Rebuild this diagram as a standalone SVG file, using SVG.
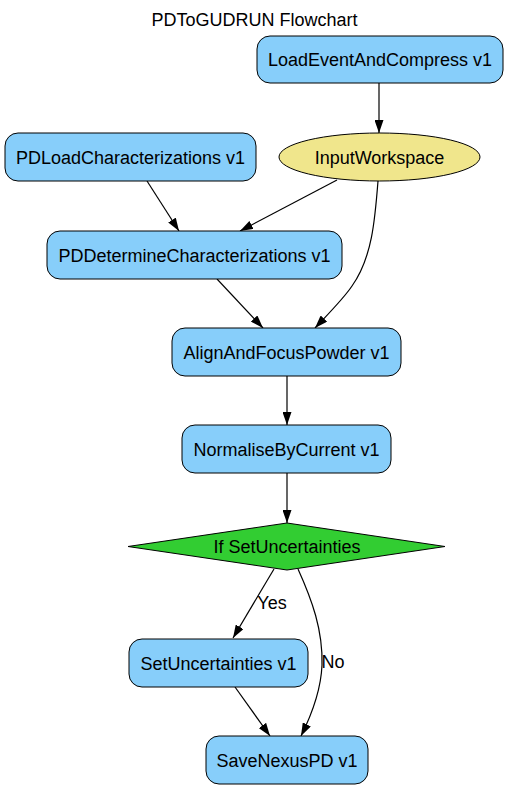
<svg xmlns="http://www.w3.org/2000/svg" width="509" height="789" viewBox="0 0 509 789">
<style>
text{font-family:"Liberation Sans",Arial,Helvetica,sans-serif;font-size:18px;fill:#000;text-anchor:middle}
.n{fill:#87CEFA;stroke:#000;stroke-width:1}
.e{fill:none;stroke:#000;stroke-width:1.2;marker-end:url(#ah)}
</style>
<defs>
<marker id="ah" markerWidth="13" markerHeight="9" refX="13" refY="4.5" orient="auto" markerUnits="userSpaceOnUse">
<path d="M0,0 L13,4.5 L0,9 z" fill="#000"/>
</marker>
</defs>
<rect width="509" height="789" fill="#fff"/>
<text x="254.5" y="26">PDToGUDRUN Flowchart</text>
<g id="connectors">
<path class="e" d="M379,83 L379,133"/>
<path class="e" d="M147,181 L179,231"/>
<path class="e" d="M337,180 L240,231"/>
<path class="e" d="M378,181 C375,220 372,258 352,286 C344,298 332,310 315,328"/>
<path class="e" d="M217,279 L263,328"/>
<path class="e" d="M287,376 L287,425"/>
<path class="e" d="M287,473 L287,523"/>
<path class="e" d="M274,569 L233,638"/>
<path class="e" d="M298,569 C312,600 323,630 322,665 C321,690 312,714 301,736"/>
<path class="e" d="M235,687 L270,736"/>
<text x="272" y="609">Yes</text>
<text x="333" y="668">No</text>
</g>
<g id="LoadEventAndCompress">
<rect class="n" x="257" y="36" width="246" height="47" rx="13"/>
<text x="380" y="66">LoadEventAndCompress v1</text>
</g>
<g id="InputWorkspace">
<ellipse cx="379.5" cy="157" rx="100.5" ry="24" fill="#F0E68C" stroke="#000"/>
<text x="379.5" y="163.5">InputWorkspace</text>
</g>
<g id="PDLoadCharacterizations">
<rect class="n" x="5" y="133" width="251" height="48" rx="13"/>
<text x="130.5" y="163.5">PDLoadCharacterizations v1</text>
</g>
<g id="PDDetermineCharacterizations">
<rect class="n" x="47" y="231" width="295" height="48" rx="13"/>
<text x="194.5" y="261.5">PDDetermineCharacterizations v1</text>
</g>
<g id="AlignAndFocusPowder">
<rect class="n" x="172" y="328" width="229" height="48" rx="13"/>
<text x="286.5" y="358.5">AlignAndFocusPowder v1</text>
</g>
<g id="NormaliseByCurrent">
<rect class="n" x="182" y="425" width="209" height="48" rx="13"/>
<text x="286.5" y="455.5">NormaliseByCurrent v1</text>
</g>
<g id="IfSetUncertainties">
<polygon points="287,523 445,546.5 287,570 128,546.5" fill="#32CD32" stroke="#000"/>
<text x="287" y="553">If SetUncertainties</text>
</g>
<g id="SetUncertainties">
<rect class="n" x="129" y="639" width="179" height="48" rx="13"/>
<text x="218.5" y="669.5">SetUncertainties v1</text>
</g>
<g id="SaveNexusPD">
<rect class="n" x="206" y="736" width="162" height="48" rx="13"/>
<text x="287" y="766.5">SaveNexusPD v1</text>
</g>
</svg>
